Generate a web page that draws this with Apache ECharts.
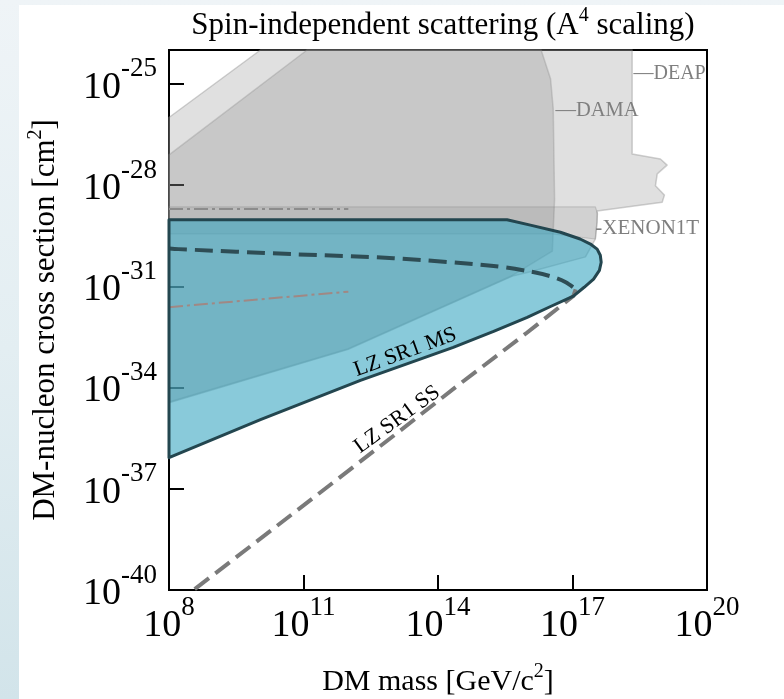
<!DOCTYPE html>
<html><head><meta charset="utf-8">
<script src="https://cdn.jsdelivr.net/npm/echarts@6/dist/echarts.min.js"></script>
<style>
html,body{margin:0;padding:0;width:784px;height:699px;overflow:hidden;}
body{background:linear-gradient(to bottom,#eff4f7 0%,#e3eef2 50%,#d2e4ea 100%);}
#chart{position:absolute;left:19px;top:5px;width:765px;height:694px;background:#fff;}
</style></head><body><div id="chart"></div>
<script>
// axis ticks (log10 exponents)
const xTicks = [8, 11, 14, 17, 20];
const yTicks = [-40, -37, -34, -31, -28, -25];

// regions: [log10 mass (GeV/c^2), log10 sigma (cm^2)]
const deapRegion = [[8.0,-26.0],[10.04,-24.0],[18.33,-24.0],[18.33,-27.08],[18.96,-27.23],[19.11,-27.41],[18.89,-27.67],[18.85,-28.02],[19.05,-28.30],[19.0,-28.51],[17.55,-28.77],[17.55,-29.1],[17.51,-29.6],[17.29,-30.13],[16.04,-30.58],[15.66,-30.70],[12.0,-32.87],[8.0,-34.45]];
const damaRegion = [[8.0,-27.11],[11.08,-24.0],[16.30,-24.0],[16.51,-24.85],[16.57,-25.74],[16.60,-28.42],[16.55,-29.96],[15.66,-30.68],[12.0,-32.85],[8.0,-34.43]];
const xenonRegion = [[8.0,-28.65],[17.51,-28.65],[17.56,-28.85],[17.51,-29.6],[16.55,-29.45],[8.0,-29.45]];
const lzMsRegion = [[8.0,-29.03],[15.54,-29.03],[16.06,-29.19],[16.73,-29.40],[17.17,-29.60],[17.40,-29.75],[17.55,-29.90],[17.62,-30.08],[17.64,-30.29],[17.60,-30.53],[17.47,-30.79],[17.26,-31.03],[17.02,-31.29],[16.51,-31.60],[15.99,-31.92],[15.24,-32.34],[14.34,-32.81],[12.27,-33.79],[10.04,-34.95],[8.0,-36.08]];
const lzSsUpper = [[8.0,-29.88],[8.21,-29.90],[10.78,-30.05],[13.01,-30.17],[15.24,-30.40],[16.0,-30.55],[16.5,-30.70],[16.85,-30.88],[17.07,-31.09]];
const lzSsLower = [[17.07,-31.09],[17.02,-31.29],[15.99,-32.37],[14.50,-33.88],[13.01,-35.43],[11.16,-37.33],[8.55,-40.0]];
const dashDotGray = [[8.0,-28.71],[12.0,-28.71]];
const dashDotRose = [[8.0,-31.62],[12.0,-31.16]];

// text annotations
const labelText = ['\u2014DEAP', '\u2014DAMA', '-XENON1T', 'LZ SR1 MS', 'LZ SR1 SS'];
const labelPos = [[18.36,-24.70],[16.62,-25.80],[17.51,-29.28],[13.27,-32.96],[13.09,-34.95]];
const labelRot = [0, 0, 0, 20, 36];
const labelSize = [20, 20.5, 21, 22, 22];

const FONT = '"Liberation Serif","Times New Roman",serif';

function polySeries(pts, fill, stroke, lw, z){
  return {
    type: 'custom', silent: true, z: z, data: [[pts[0][0], pts[0][1]]],
    renderItem: function(params, api){
      return { type: 'polygon', shape: { points: pts.map(function(p){ return api.coord(p); }) },
               style: { fill: fill, stroke: stroke, lineWidth: lw, lineJoin: 'round' } };
    }
  };
}
function lineSeries(pts, color, width, dash, z, smooth){
  return { type: 'line', data: pts, showSymbol: false, symbol: 'none', silent: true, z: z, smooth: smooth || false,
           lineStyle: { color: color, width: width, type: dash, cap: 'butt' } };
}
const supRich = { s: { fontFamily: FONT, fontSize: 20, verticalAlign: 'top', lineHeight: 20 } };

const chart = echarts.init(document.getElementById('chart'));
chart.setOption({
  animation: false,
  backgroundColor: '#ffffff',
  title: {
    text: 'Spin-independent scattering (A{s|4} scaling)',
    left: 419, top: -4, textAlign: 'center',
    textStyle: { fontFamily: FONT, fontSize: 31, fontWeight: 'normal', color: '#000', lineHeight: 40, rich: supRich }
  },
  grid: { left: 150, top: 45, width: 538, height: 540, show: true, borderColor: '#000', borderWidth: 2,
          backgroundColor: 'transparent', outerBoundsMode: 'none', containLabel: false },
  xAxis: {
    type: 'value', min: 8, max: 20,
    name: 'DM mass [GeV/c{s|2}]', nameLocation: 'middle', nameGap: 72,
    nameTextStyle: { fontFamily: FONT, fontSize: 30, color: '#000', lineHeight: 40, rich: supRich },
    axisLine: { lineStyle: { color: '#000', width: 2 } },
    axisTick: { inside: true, length: 15, lineStyle: { color: '#000', width: 2 }, customValues: xTicks },
    axisLabel: { customValues: xTicks, margin: 4, color: '#000',
      formatter: function(v){ return '{b|10}{s|' + v + '}'; },
      rich: { b: { fontFamily: FONT, fontSize: 38, lineHeight: 64 },
              s: { fontFamily: FONT, fontSize: 27, verticalAlign: 'top', lineHeight: 27 } } },
    splitLine: { show: false }
  },
  yAxis: {
    type: 'value', min: -40, max: -24,
    name: 'DM-nucleon cross section [cm{s|2}]', nameLocation: 'middle', nameGap: 103,
    nameTextStyle: { fontFamily: FONT, fontSize: 31, color: '#000', lineHeight: 40, rich: supRich },
    axisLine: { lineStyle: { color: '#000', width: 2 } },
    axisTick: { inside: true, length: 15, lineStyle: { color: '#000', width: 2 }, customValues: yTicks },
    axisLabel: { customValues: yTicks, margin: 12, color: '#000', padding: [8, 0, 0, 0],
      formatter: function(v){ return '{b|10}{s|' + v + '}'; },
      rich: { b: { fontFamily: FONT, fontSize: 38, lineHeight: 64 },
              s: { fontFamily: FONT, fontSize: 27, verticalAlign: 'top', lineHeight: 27 } } },
    splitLine: { show: false }
  },
  series: [
    polySeries(deapRegion, 'rgba(128,128,128,0.245)', 'rgba(150,150,150,0.45)', 1.5, 1),
    polySeries(damaRegion, 'rgba(128,128,128,0.25)', 'rgba(140,140,140,0.35)', 1.5, 2),
    polySeries(xenonRegion, 'rgba(80,80,80,0.1)', 'rgba(140,140,140,0.35)', 1.2, 3),
    lineSeries(dashDotGray, '#8c8c8c', 2, [14,4,3,4], 4),
    polySeries(lzMsRegion, 'rgba(58,167,193,0.6)', null, 0, 5),
    lineSeries(dashDotRose, '#a08884', 2, [14,4,3,4], 6),
    lineSeries(lzSsUpper, '#2e4d55', 4, [18,8], 7, 0.3),
    lineSeries(lzSsLower, '#7a7a7a', 4, [18,8], 7),
    polySeries(lzMsRegion, 'none', '#23464f', 3, 8),
    {
      type: 'custom', silent: true, z: 9, clip: false,
      data: labelPos.map(function(p, i){ return [p[0], p[1], i]; }),
      renderItem: function(params, api){
        var i = api.value(2);
        var pt = api.coord([api.value(0), api.value(1)]);
        var isLz = i >= 3;
        return { type: 'text', x: pt[0], y: pt[1], rotation: labelRot[i] * Math.PI / 180,
          style: { text: labelText[i], fill: isLz ? '#000' : '#7f7f7f', fontFamily: FONT,
                   fontSize: labelSize[i], align: isLz ? 'center' : 'left', verticalAlign: 'middle' } };
      }
    }
  ]
});
</script></body></html>
